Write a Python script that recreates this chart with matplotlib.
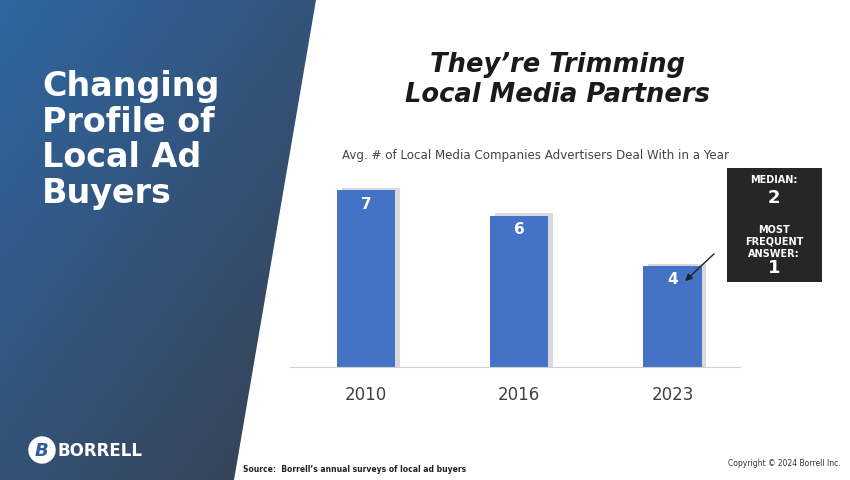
import numpy as np
import matplotlib.pyplot as plt
from matplotlib.patches import Polygon, Rectangle, Circle

years = ["2010", "2016", "2023"]
values = [7, 6, 4]

W, H = 850, 480
fig = plt.figure(figsize=(8.5, 4.8), dpi=100)
fig.patch.set_facecolor("white")

# background layer in pixel coordinates
bg = fig.add_axes([0, 0, 1, 1])
bg.set_xlim(0, W)
bg.set_ylim(H, 0)
bg.axis("off")

# left gradient panel
gx, gy = np.meshgrid(np.linspace(0, 1, 200), np.linspace(0, 1, 200))
t = np.clip(0.55 * gx + 0.6 * gy, 0, 1)
c0 = np.array([0x2f, 0x66, 0xa2]) / 255
c1 = np.array([0x36, 0x45, 0x5a]) / 255
img = c0[None, None, :] * (1 - t[..., None]) + c1[None, None, :] * t[..., None]
im = bg.imshow(img, extent=[0, 316, H, 0], aspect="auto", zorder=1)
panel = Polygon([[0, 0], [316, 0], [234, H], [0, H]], closed=True,
                transform=bg.transData, facecolor="none", edgecolor="none")
bg.add_patch(panel)
im.set_clip_path(panel)

bg.text(42, 140, "Changing\nProfile of\nLocal Ad\nBuyers", color="white",
        fontsize=24, fontweight="bold", va="center", ha="left",
        linespacing=1.1, zorder=3)

# logo
bg.add_patch(Circle((42, 450), 13, color="white", zorder=3))
bg.text(42, 451, "B", color="#2f5f96", fontsize=13, fontweight="bold",
        style="italic", ha="center", va="center", zorder=4)
bg.text(58, 451, "BORRELL", color="white", fontsize=12, fontweight="bold",
        ha="left", va="center", zorder=3)

# titles
bg.text(558, 80, "They\u2019re Trimming\nLocal Media Partners", fontsize=18.5,
        fontweight="bold", style="italic", ha="center", va="center",
        color="#1a1a1a", linespacing=1.25)
bg.text(536, 156, "Avg. # of Local Media Companies Advertisers Deal With in a Year",
        fontsize=8.6, ha="center", va="center", color="#444444")

bg.text(243, 469, "Source:  Borrell\u2019s annual surveys of local ad buyers",
        fontsize=5.5, fontweight="bold", ha="left", va="center", color="#222222")
bg.text(728, 464, "Copyright \u00a9 2024 Borrell Inc.", fontsize=5.5,
        ha="left", va="center", color="#333333")

# bar chart
ax = fig.add_axes([290 / W, 113 / H, 450 / W, 202 / H])
ax.set_xlim(-0.497, 2.44)
ax.set_ylim(0, 8)
x = np.arange(len(years))
ax.bar(x + 0.03, np.array(values) + 0.08, width=0.38, color="#d9d9d9", zorder=1)
ax.bar(x, values, width=0.38, color="#4472c4", zorder=2)
for xi, v in zip(x, values):
    ax.text(xi, v - 0.55, str(v), color="white", fontsize=11,
            fontweight="bold", ha="center", va="center", zorder=3)
ax.set_xticks(x)
ax.set_xticklabels(years, fontsize=12, color="#404040")
ax.tick_params(axis="x", length=0, pad=14)
ax.set_yticks([])
for s in ["top", "right", "left"]:
    ax.spines[s].set_visible(False)
ax.spines["bottom"].set_color("#d0d0d0")
ax.patch.set_alpha(0)

# overlay for annotation box and arrow
ov = fig.add_axes([0, 0, 1, 1])
ov.set_xlim(0, W)
ov.set_ylim(H, 0)
ov.axis("off")
ov.patch.set_alpha(0)
ov.add_patch(Rectangle((727, 168), 95, 114, facecolor="#262626",
                       edgecolor="none", zorder=3))
ov.text(774, 180, "MEDIAN:", color="white", fontsize=7, fontweight="bold",
        ha="center", va="center", zorder=4)
ov.text(774, 198, "2", color="white", fontsize=13, fontweight="bold",
        ha="center", va="center", zorder=4)
ov.text(774, 242, "MOST\nFREQUENT\nANSWER:", color="white", fontsize=7,
        fontweight="bold", ha="center", va="center", linespacing=1.2, zorder=4)
ov.text(774, 268, "1", color="white", fontsize=13, fontweight="bold",
        ha="center", va="center", zorder=4)
ov.annotate("", xy=(683, 283), xytext=(716, 252),
            arrowprops=dict(arrowstyle="-|>", color="#222222", lw=1,
                            mutation_scale=10), zorder=4)

fig.savefig("out.png", dpi=100)
